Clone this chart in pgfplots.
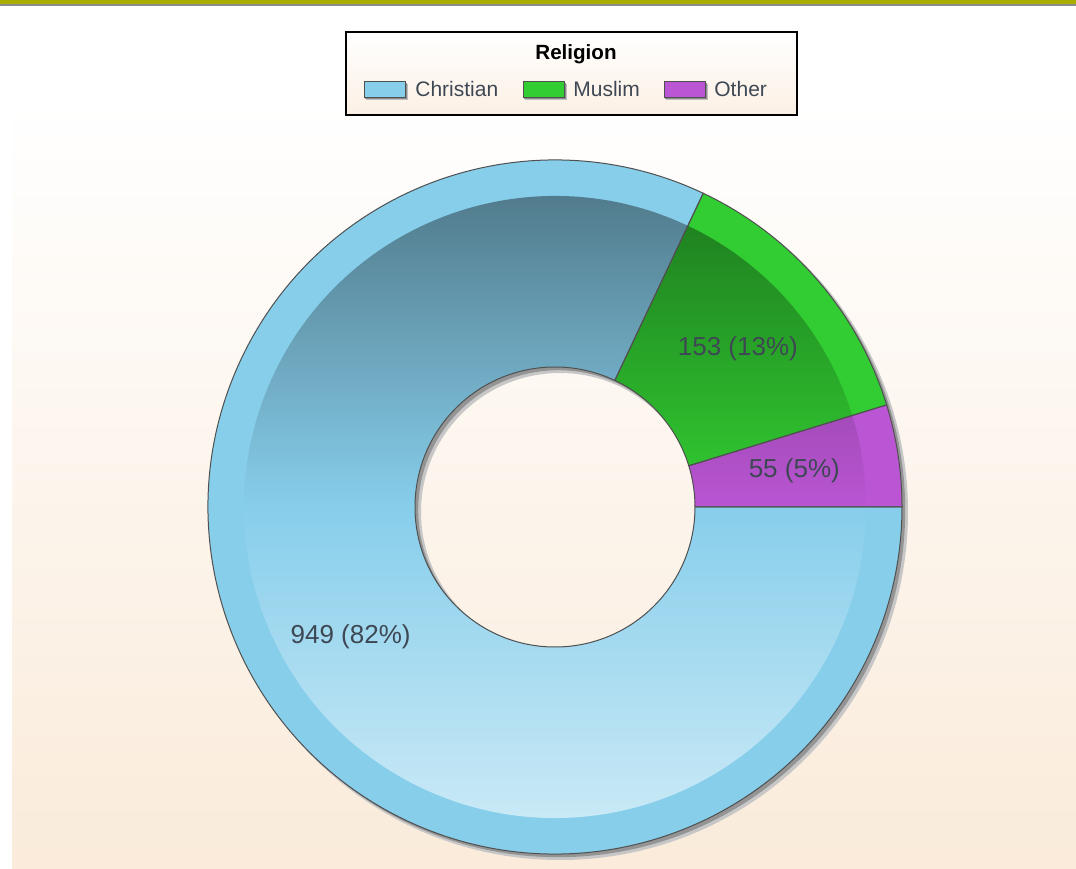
\documentclass[border=0pt]{standalone}
\usepackage{pgfplots}
\pgfplotsset{compat=1.18}
\usepackage{pgfplotstable}
\usepackage{fontspec}
\setmainfont{Liberation Sans}
\definecolor{christian}{RGB}{135,206,235}
\definecolor{muslim}{RGB}{50,205,50}
\definecolor{other}{RGB}{186,85,211}
\definecolor{peach}{RGB}{250,235,218}
\definecolor{legpeach}{RGB}{252,240,228}
\definecolor{olivebar}{RGB}{168,173,0}
\definecolor{greybar}{RGB}{140,140,140}
\definecolor{labeltext}{RGB}{62,72,84}
\definecolor{edge}{RGB}{80,80,80}

\pgfplotstableread{
name value
Christian 949
Muslim 153
Other 55
}\religion

\tikzset{sector/.style n args={4}{insert path={
  ([shift={(#1:#4)}]axis cs:0,0) arc[start angle=#1, end angle=#2, radius=#4]
  -- ([shift={(#2:#3)}]axis cs:0,0) arc[start angle=#2, end angle=#1, radius=#3] -- cycle}}}

\begin{document}
\begin{tikzpicture}
\pgfplotstablegetelem{0}{value}\of\religion \pgfmathsetmacro{\vC}{\pgfplotsretval}
\pgfplotstablegetelem{1}{value}\of\religion \pgfmathsetmacro{\vM}{\pgfplotsretval}
\pgfplotstablegetelem{2}{value}\of\religion \pgfmathsetmacro{\vO}{\pgfplotsretval}
\pgfmathsetmacro{\vT}{\vC+\vM+\vO}
\pgfmathsetmacro{\aO}{360*(\vO/\vT)}
\pgfmathsetmacro{\aM}{\aO+360*(\vM/\vT)}
\pgfmathsetmacro{\mO}{\aO/2}
\pgfmathsetmacro{\mM}{(\aO+\aM)/2}
\pgfmathsetmacro{\mC}{(\aM+360)/2}
\begin{axis}[
  hide axis, scale only axis, x=0.5pt, y=0.5pt,
  xmin=-555, xmax=521, ymin=-361, ymax=507,
  clip=false,
]
\coordinate (bbsw) at (axis cs:-555,-361);
\coordinate (bbne) at (axis cs:521,507);
% background
\fill[white] (axis cs:-555,-361) rectangle (axis cs:521,507);
\shade[top color=white, bottom color=peach] (axis cs:-543,-361) rectangle (axis cs:521,407);
\fill[olivebar] (axis cs:-555,503) rectangle (axis cs:521,507);
\fill[greybar] (axis cs:-555,501) rectangle (axis cs:521,503);
% shadow of ring
\fill[black!22, even odd rule, shift={(2.5pt,-2.5pt)}] (axis cs:0,0) circle[radius=174pt] (axis cs:0,0) circle[radius=69.5pt];
\fill[black!42, even odd rule, shift={(1.6pt,-1.6pt)}] (axis cs:0,0) circle[radius=173.5pt] (axis cs:0,0) circle[radius=70pt];
% segments
\fill[other, sector={0}{\aO}{70pt}{173.5pt}];
\fill[muslim, sector={\aO}{\aM}{70pt}{173.5pt}];
\fill[christian, sector={\aM}{360}{70pt}{173.5pt}];
% shine
\pgfplotsextra{
\begin{scope}
\path[clip, sector={0}{\aO}{70pt}{155.5pt}];
\shade[top color=other!60!black, bottom color=other!45!white, middle color=other] (axis cs:-311,-311) rectangle (axis cs:311,311);
\end{scope}
\begin{scope}
\path[clip, sector={\aO}{\aM}{70pt}{155.5pt}];
\shade[top color=muslim!60!black, bottom color=muslim!45!white, middle color=muslim] (axis cs:-311,-311) rectangle (axis cs:311,311);
\end{scope}
\begin{scope}
\path[clip, sector={\aM}{360}{70pt}{155.5pt}];
\shade[top color=christian!60!black, bottom color=christian!45!white, middle color=christian] (axis cs:-311,-311) rectangle (axis cs:311,311);
\end{scope}
}
% outlines
\draw[edge, line width=0.5pt, sector={0}{\aO}{70pt}{173.5pt}];
\draw[edge, line width=0.5pt, sector={\aO}{\aM}{70pt}{173.5pt}];
\draw[edge, line width=0.5pt, sector={\aM}{360}{70pt}{173.5pt}];
% labels
\node[text=labeltext, font=\fontsize{13}{15}\selectfont] at ([shift={(\mM:121pt)}]axis cs:0,0) {153 (13\%)};
\node[text=labeltext, font=\fontsize{13}{15}\selectfont] at ([shift={(\mO:121pt)}]axis cs:0,0) {55 (5\%)};
\node[text=labeltext, font=\fontsize{13}{15}\selectfont] at ([shift={(\mC:121pt)}]axis cs:0,0) {949 (82\%)};
% legend
\path[draw=black, line width=0.75pt, top color=white, bottom color=legpeach] (axis cs:-209,392) rectangle (axis cs:242,475);
\node[font=\bfseries\fontsize{10.3}{12}\selectfont] at (axis cs:21,453) {Religion};
\fill[black!25] (axis cs:-189,407) rectangle (axis cs:-147,423);
\fill[black!45] (axis cs:-190,408) rectangle (axis cs:-148,424);
\draw[draw=edge, fill=christian, line width=0.4pt] (axis cs:-191,410) rectangle (axis cs:-150,426);
\node[anchor=west, inner sep=0pt, text=labeltext, font=\fontsize{10.5}{12}\selectfont] at (axis cs:-140,418) {Christian};
\fill[black!25] (axis cs:-30,407) rectangle (axis cs:12,423);
\fill[black!45] (axis cs:-31,408) rectangle (axis cs:11,424);
\draw[draw=edge, fill=muslim, line width=0.4pt] (axis cs:-32,410) rectangle (axis cs:9,426);
\node[anchor=west, inner sep=0pt, text=labeltext, font=\fontsize{10.5}{12}\selectfont] at (axis cs:18,418) {Muslim};
\fill[black!25] (axis cs:111,407) rectangle (axis cs:153,423);
\fill[black!45] (axis cs:110,408) rectangle (axis cs:152,424);
\draw[draw=edge, fill=other, line width=0.4pt] (axis cs:109,410) rectangle (axis cs:150,426);
\node[anchor=west, inner sep=0pt, text=labeltext, font=\fontsize{10.5}{12}\selectfont] at (axis cs:159,418) {Other};
\end{axis}
\pgfresetboundingbox
\useasboundingbox (bbsw) rectangle (bbne);
\end{tikzpicture}
\end{document}
